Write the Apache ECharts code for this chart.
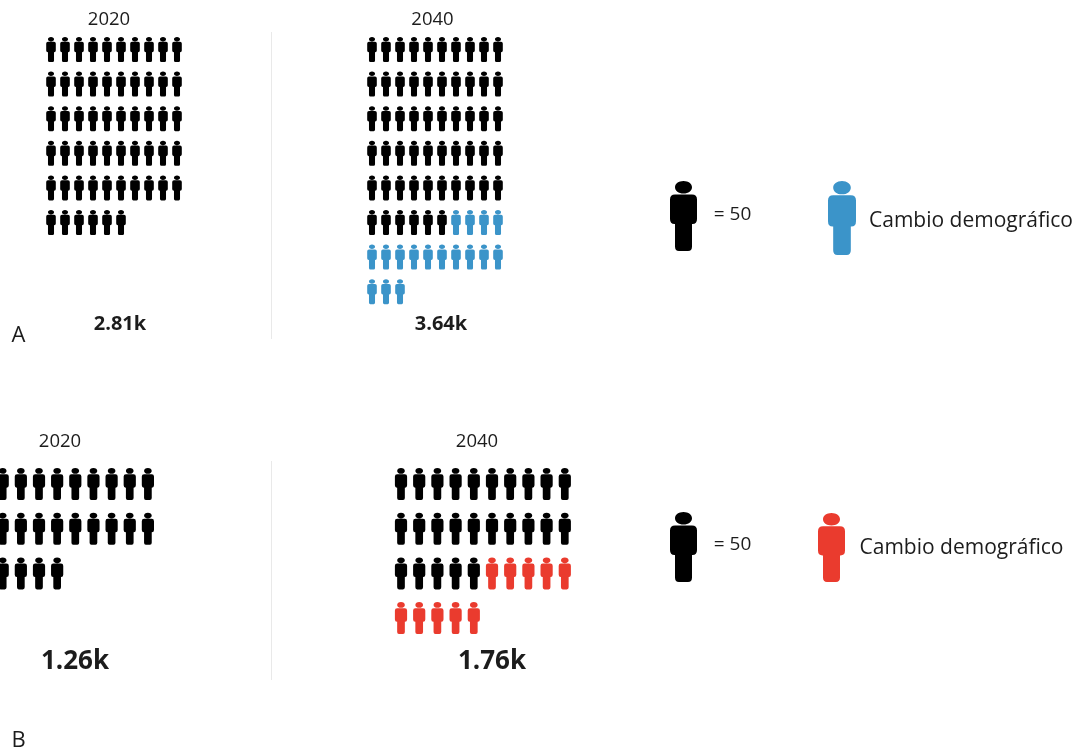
<!DOCTYPE html>
<html>
<head>
<meta charset="utf-8">
<style>html,body{margin:0;padding:0;background:#fff}#chart{width:1080px;height:751px}</style>
<script src="https://cdn.jsdelivr.net/npm/echarts@6/dist/echarts.min.js"></script>
</head>
<body>
<div id="chart"></div>
<script>
// Each figure stands for 50 people
const years = ['2020', '2040'];
const totalsA = ['2.81k', '3.64k'];
const totalsB = ['1.26k', '1.76k'];
const baseCountsA = [56, 56];
const changeCountsA = [0, 17];
const baseCountsB = [25, 25];
const changeCountsB = [0, 10];
const perRow = 10;
const keyBaseLabel = '= 50';
const keyChangeLabel = 'Cambio demográfico';

const BLACK = '#000000', BLUE = '#3b94c9', RED = '#ea3b2e', INK = '#1c1c1c';
const FONT = '"Open Sans", sans-serif';
const PERSON = 'path://M13.5 0C18.5 0 22 2.8 22 6.3C22 9.8 18.5 12.6 13.5 12.6C8.5 12.6 5 9.8 5 6.3C5 2.8 8.5 0 13.5 0Z' +
  'M5 13.5L22 13.5Q27 13.5 27 18.5L27 38Q27 43 22.5 43L22 43L22 65.5Q22 70 18 70L9 70Q5 70 5 65.5L5 43L4.5 43Q0 43 0 38L0 18.5Q0 13.5 5 13.5Z';

// Turns a run of figures into column/row cells, continuing after `start`
function cells(start, count) {
  const out = [];
  for (let i = start; i < start + count; i++) out.push([i % perRow, Math.floor(i / perRow)]);
  return out;
}

const grids = [], xAxes = [], yAxes = [], series = [];
function addGrid(rect, firstColumn, lastColumn, rows) {
  const i = grids.length;
  grids.push(rect);
  xAxes.push({ gridIndex: i, type: 'value', min: firstColumn, max: lastColumn, show: false });
  yAxes.push({ gridIndex: i, type: 'value', min: 0, max: rows, inverse: true, show: false });
  return { type: 'scatter', xAxisIndex: i, yAxisIndex: i, symbol: PERSON, clip: false, silent: true };
}
// firstColumn > 0 lets the leftmost columns run past the edge of the page
function panel(rect, size, rows, base, change, color, firstColumn) {
  const from = firstColumn || 0;
  const common = addGrid({ left: rect.left, top: rect.top, width: rect.pitchX * (perRow - 1 - from), height: rect.pitchY * (rows - 1) }, from, perRow - 1, rows - 1);
  common.symbolSize = size;
  series.push(Object.assign({ name: keyBaseLabel, data: cells(0, base), itemStyle: { color: BLACK, opacity: 1 } }, common));
  if (change) series.push(Object.assign({ name: keyChangeLabel, data: cells(base, change), itemStyle: { color: color, opacity: 1 } }, common));
}
// A single large figure for the key, centred on (cx, cy)
function keyFigure(cx, cy, size, color, name) {
  const common = addGrid({ left: cx - 10, top: cy - 10, width: 20, height: 20 }, 0, 2, 2);
  common.symbolSize = size;
  series.push(Object.assign({ name: name, data: [[1, 1]], itemStyle: { color: color, opacity: 1 } }, common));
}

const SMALL = [9.6, 25], LARGE = [12.2, 32];
panel({ left: 51, top: 49.5, pitchX: 14, pitchY: 34.6 }, SMALL, 6, baseCountsA[0], changeCountsA[0], BLUE);
panel({ left: 372, top: 49.5, pitchX: 14, pitchY: 34.6 }, SMALL, 8, baseCountsA[1], changeCountsA[1], BLUE);
panel({ left: 2.7, top: 484, pitchX: 18.15, pitchY: 44.7 }, LARGE, 3, baseCountsB[0], changeCountsB[0], RED, 1);
panel({ left: 401, top: 484, pitchX: 18.2, pitchY: 44.7 }, LARGE, 4, baseCountsB[1], changeCountsB[1], RED);
keyFigure(683.5, 216, [27, 70], BLACK, keyBaseLabel);
keyFigure(842, 218, [28, 74], BLUE, keyChangeLabel);
keyFigure(683.5, 547, [27, 70], BLACK, keyBaseLabel);
keyFigure(831.5, 547.5, [27, 69], RED, keyChangeLabel);

// Plain text placed by its centre point
function caption(text, x, y, size, weight) {
  return { type: 'text', x: x, y: y, silent: true,
    style: { text: text, fill: INK, font: (weight || 'normal') + ' ' + size + 'px ' + FONT, textAlign: 'center', textVerticalAlign: 'middle' } };
}
function divider(x, y1, y2) {
  return { type: 'line', silent: true, shape: { x1: x, y1: y1, x2: x, y2: y2 }, style: { stroke: '#e9e9e9', lineWidth: 1 } };
}

const graphic = [
  divider(271.5, 32, 339), divider(271.5, 461, 680),
  caption(years[0], 109, 20, 18.5), caption(years[1], 432.5, 20, 18.5),
  caption(totalsA[0], 120, 324.5, 20, 'bold'), caption(totalsA[1], 441, 324.5, 20, 'bold'),
  caption('A', 18.5, 336, 22),
  caption(years[0], 60, 442, 18.5), caption(years[1], 477, 442, 18.5),
  caption(totalsB[0], 75, 662, 26, 'bold'), caption(totalsB[1], 492, 662, 26, 'bold'),
  caption('B', 18.5, 741, 22),
  caption(keyBaseLabel, 732.5, 215, 19), caption(keyChangeLabel, 971, 221, 21),
  caption(keyBaseLabel, 732.5, 545, 19), caption(keyChangeLabel, 961.5, 548, 21)
];

const chart = echarts.init(document.getElementById('chart'), null, { renderer: 'canvas' });
chart.setOption({
  animation: false,
  backgroundColor: '#ffffff',
  grid: grids, xAxis: xAxes, yAxis: yAxes, series: series, graphic: graphic
});
</script>
</body>
</html>
